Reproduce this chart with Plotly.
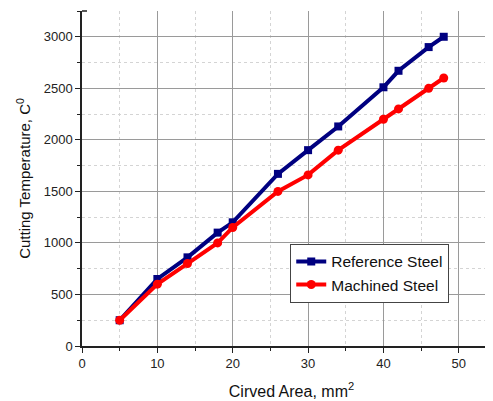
import plotly.graph_objects as go

area_ref = [5, 10, 14, 18, 20, 26, 30, 34, 40, 42, 46, 48]
temp_ref = [250, 650, 860, 1100, 1200, 1670, 1900, 2130, 2510, 2670, 2900, 3000]
area_mach = [5, 10, 14, 18, 20, 26, 30, 34, 40, 42, 46, 48]
temp_mach = [250, 600, 800, 1000, 1150, 1500, 1660, 1900, 2200, 2300, 2500, 2600]

x_ticks = [0, 10, 20, 30, 40, 50]
y_ticks = [0, 500, 1000, 1500, 2000, 2500, 3000]

fig = go.Figure()
fig.add_trace(go.Scatter(x=area_ref, y=temp_ref, mode="lines+markers", name="Reference Steel",
                         line=dict(color="#000080", width=4),
                         marker=dict(symbol="square", size=8, color="#000080")))
fig.add_trace(go.Scatter(x=area_mach, y=temp_mach, mode="lines+markers", name="Machined Steel",
                         line=dict(color="#ff0000", width=4),
                         marker=dict(symbol="circle", size=9, color="#ff0000")))

font = "Liberation Sans, Arial, sans-serif"
fig.update_layout(
    width=493, height=401,
    margin=dict(l=74, r=0, t=3, b=63),
    paper_bgcolor="white", plot_bgcolor="white",
    font=dict(family=font, size=13, color="#222"),
    showlegend=True,
    legend=dict(x=0.497, y=0.305, xanchor="left", yanchor="top",
                bgcolor="white", bordercolor="#444", borderwidth=1,
                font=dict(size=15.5, color="#111"), tracegroupgap=0,
                itemwidth=30),
    xaxis=dict(range=[0, 55.6], tickvals=x_ticks, showline=True, linecolor="#222", linewidth=1.5,
               ticks="outside", ticklen=5, tickcolor="#222", automargin=False,
               showgrid=True, gridcolor="#9a9a9a", gridwidth=1, zeroline=False,
               minor=dict(dtick=5, tick0=0, ticks="outside", ticklen=3, tickcolor="#222",
                          showgrid=True, gridcolor="#d4d4d4", griddash="dot"),
               title=dict(text="Cirved Area, mm<sup>2</sup>", font=dict(size=16, color="#111"), standoff=15)),
    yaxis=dict(range=[0, 3250], tickvals=y_ticks, showline=True, linecolor="#222", linewidth=1.5,
               ticks="outside", ticklen=5, tickcolor="#222", automargin=False,
               showgrid=True, gridcolor="#9a9a9a", gridwidth=1, zeroline=False,
               minor=dict(dtick=250, tick0=0, ticks="outside", ticklen=3, tickcolor="#222",
                          showgrid=True, gridcolor="#d4d4d4", griddash="dot"),
               title=dict(text="Cutting Temperature, C<sup>0</sup>", font=dict(size=15, color="#111"), standoff=9)),
)
fig.add_shape(type="line", xref="paper", yref="paper", x0=0, x1=0.012, y0=1, y1=1,
              line=dict(color="#222", width=1.5))

fig.write_html("out.html")
